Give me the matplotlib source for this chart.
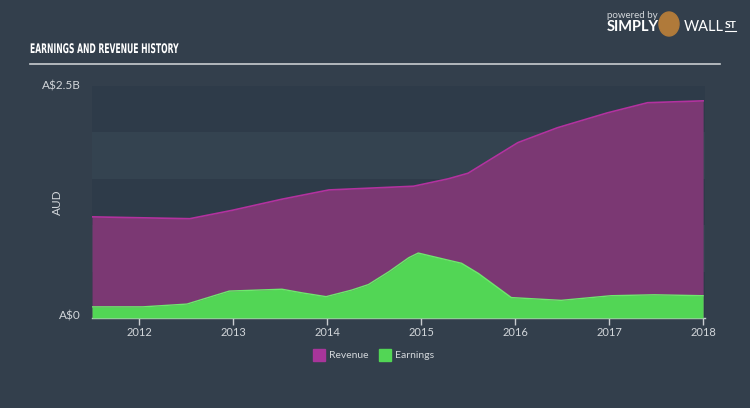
import matplotlib.pyplot as plt
from matplotlib.patches import Rectangle, Ellipse, PathPatch
from matplotlib.textpath import TextPath
from matplotlib.font_manager import FontProperties
from matplotlib.transforms import Affine2D

plt.rcParams['font.family'] = ['Lato', 'DejaVu Sans']

# revenue history, A$ billions
rev_years = [2011.50, 2012.54, 2012.99, 2013.52, 2014.02, 2014.92, 2015.29, 2015.50,
             2016.03, 2016.45, 2016.98, 2017.41, 2018.00]
revenue = [1.09, 1.07, 1.16, 1.28, 1.38, 1.42, 1.50, 1.56, 1.89, 2.05, 2.21, 2.32, 2.34]

# earnings history, A$ billions
earn_years = [2011.50, 2012.04, 2012.51, 2012.96, 2013.52, 2013.74, 2013.99, 2014.26,
              2014.44, 2014.66, 2014.87, 2014.97, 2015.26, 2015.43, 2015.61, 2015.96,
              2016.49, 2017.02, 2017.48, 2018.00]
earnings = [0.12, 0.12, 0.15, 0.29, 0.31, 0.27, 0.23, 0.30, 0.36, 0.50, 0.65, 0.70,
            0.63, 0.59, 0.48, 0.22, 0.19, 0.24, 0.25, 0.24]

year_ticks = [2012, 2013, 2014, 2015, 2016, 2017, 2018]

bg = '#333f4c'
band_dark = '#2e3b49'
band_light = '#344350'
txt = '#d2d6da'
rev_fill = '#7b3873'
rev_edge = '#b3329f'
earn_fill = '#52d655'
earn_edge = '#6ee86d'

W, H = 750, 408
fig = plt.figure(figsize=(W / 100, H / 100), dpi=100)
fig.patch.set_facecolor(bg)

def fx(px):
    return px / W

def fy(py):
    return 1 - py / H

ax = fig.add_axes([fx(92), fy(318), fx(705) - fx(92), fy(86) - fy(318)])
ax.set_facecolor(band_light)
ax.set_xlim(2011.5, 2018.02)
ax.set_ylim(0, 2.5)

for lo in [0.0, 1.0, 2.0]:
    ax.axhspan(lo, lo + 0.5, color=band_dark, lw=0, zorder=0)

ax.fill_between(rev_years, revenue, color=rev_fill, lw=0, zorder=1)
ax.plot(rev_years, revenue, color=rev_edge, lw=1.2, zorder=2)
ax.fill_between(earn_years, earnings, color=earn_fill, lw=0, zorder=3)
ax.plot(earn_years, earnings, color=earn_edge, lw=1.0, zorder=4)

for s in ['top', 'right', 'left']:
    ax.spines[s].set_visible(False)
ax.spines['bottom'].set_color('#c8ccd0')
ax.spines['bottom'].set_linewidth(1)
ax.set_yticks([])
ax.set_xticks(year_ticks)
ax.set_xticklabels([str(y) for y in year_ticks])
ax.tick_params(axis='x', colors='#c8ccd0', length=5, width=1, labelsize=8,
               labelcolor=txt, pad=1.5)

# y labels
fig.text(fx(81), fy(86), 'A$2.5B', color=txt, fontsize=8.5, ha='right', va='center')
fig.text(fx(81), fy(316), 'A$0', color=txt, fontsize=8.5, ha='right', va='center')
fig.text(fx(57), fy(202), 'AUD', color=txt, fontsize=8.5, ha='center', va='center',
         rotation=90)

# title, squeezed to a condensed look
tp = TextPath((0, 0), 'EARNINGS AND REVENUE HISTORY', size=14,
              prop=FontProperties(family='DejaVu Sans', weight='bold'))
bb = tp.get_extents()
sx = 148 / bb.width
sy = 10 / bb.height
title_tr = Affine2D().scale(sx / W, sy / H).translate(fx(30), fy(53)) + fig.transFigure
fig.add_artist(PathPatch(tp, transform=title_tr, color='white', lw=0))
fig.add_artist(plt.Line2D([fx(30), fx(720)], [fy(63.5), fy(63.5)], color='#c8ccd0', lw=1.2))

# logo
fig.text(fx(607), fy(15), 'powered by', color=txt, fontsize=7, ha='left', va='center')
fig.text(fx(607), fy(27), 'SIMPLY', color='white', fontsize=10.5, fontweight='bold',
         ha='left', va='center')
fig.add_artist(Ellipse((fx(669), fy(24)), fx(20), 24 / H, transform=fig.transFigure,
                       color='#b07a3a', zorder=5))
fig.text(fx(684), fy(27), 'WALL', color='white', fontsize=10.5, ha='left', va='center')
fig.text(fx(725), fy(26), 'ST', color='white', fontsize=7.5, fontweight='bold',
         ha='left', va='center')
fig.add_artist(plt.Line2D([fx(725), fx(736)], [fy(31), fy(31)], color='white', lw=0.8))

# legend
fig.add_artist(Rectangle((fx(313), fy(361)), fx(12), 12 / H, transform=fig.transFigure,
                         color='#a8359a'))
fig.text(fx(329), fy(356), 'Revenue', color=txt, fontsize=7.5, ha='left', va='center')
fig.add_artist(Rectangle((fx(379), fy(361)), fx(12), 12 / H, transform=fig.transFigure,
                         color=earn_fill))
fig.text(fx(395), fy(356), 'Earnings', color=txt, fontsize=7.5, ha='left', va='center')

fig.savefig('out.png', dpi=100, facecolor=bg)
